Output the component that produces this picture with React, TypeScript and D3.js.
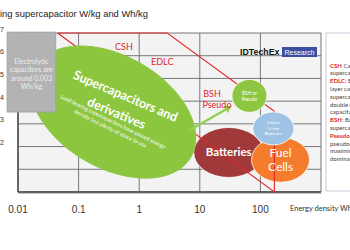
import React from "react";
import * as d3 from "d3";

// ---- data ----
const TITLE = "Comparing supercapacitor W/kg and Wh/kg";
const X_LABEL = "Energy density Wh/kg";
const ENERGY_DOMAIN = [0.01, 1000];
const POWER_DOMAIN = [0, 7];
const ENERGY_TICKS = [0.01, 0.1, 1, 10, 100];
const ENERGY_GRID = [0.01, 0.1, 1, 10, 100, 1000];
const POWER_GRID = [0, 1, 2, 3, 4, 5, 6, 7];
const POWER_LABELS = [2, 3, 4, 5, 6, 7];

// supercapacitor zone outline (energy Wh/kg, log10 power W/kg)
const ZONE_ENERGY = [0.045, 2.9, 170, 170, 0.045];
const ZONE_POWER = [7, 7, 3.55, 0, 7];

// technology blobs: centre (energy, log power)
const BLOB_NAMES = ["Batteries", "Fuel Cells", "Li", "Super", "BSH"];
const BLOB_ENERGY = [30, 215, 164, 0.37, 66];
const BLOB_POWER = [1.74, 1.42, 2.8, 3.52, 4.23];

// zone labels
const ZONE_LABELS = ["CSH", "EDLC", "BSH", "Pseudo"];
const ZONE_LABEL_ENERGY = [0.56, 2.4, 15.9, 19.2];
const ZONE_LABEL_POWER = [6.25, 5.6, 4.2, 3.68];

// arrow from supercapacitors to BSH/pseudo
const ARROW_ENERGY = [6.9, 31.5];
const ARROW_POWER = [2.73, 3.74];

// electrolytic capacitor note (energy, power extents)
const NOTE_ENERGY = [0.0066, 0.042];
const NOTE_POWER = [3.52, 7.04];
const NOTE_LINES = ["Electrolytic", "capacitors are", "around 0.003", "Wh/kg"];

const LEGEND_KEYS = ["CSH", "", "EDLC:", "", "", "", "", "BSH", "", "Pseudo", "", "", ""];
const LEGEND_TEXT = [
  " Capacitor-",
  "supercapacitor hybrid",
  " Electric double",
  "layer capacitor",
  "supercapacitor,",
  "double layer",
  "capacitance",
  ": Battery-",
  "supercapacitor hybrid",
  "capacitor:",
  "pseudocapacitance",
  "maximised",
  "dominant",
];

// ---- styles ----
const RED = "#e2262b";
const GREEN = "#8cc63f";
const BLOB_STYLE: Record<string, { rx: number; ry: number; fill: string; rot?: number }> = {
  Batteries: { rx: 35, ry: 25, fill: "#a1393a" },
  "Fuel Cells": { rx: 29, ry: 22.5, fill: "#f47c2c" },
  Li: { rx: 20.5, ry: 16.5, fill: "#9ec3e4" },
  Super: { rx: 90, ry: 56, fill: GREEN, rot: 30 },
  BSH: { rx: 17.5, ry: 16.5, fill: "#8dc641" },
};

export default function App() {
  const x = d3.scaleLog().domain(ENERGY_DOMAIN).range([18, 321]);
  const y = d3.scaleLinear().domain(POWER_DOMAIN).range([192, 33]);
  const [x0, x1] = x.range();
  const [yb, yt] = y.range();

  const zonePath = d3.line()(ZONE_ENERGY.map((e, i) => [x(e), y(ZONE_POWER[i])]) as [number, number][]) || "";

  const blob = (name: string) => {
    const i = BLOB_NAMES.indexOf(name);
    return { cx: x(BLOB_ENERGY[i]), cy: y(BLOB_POWER[i]), ...BLOB_STYLE[name] };
  };
  const ellipse = (name: string, stroke = "#ffffff") => {
    const b = blob(name);
    return (
      <ellipse
        cx={b.cx}
        cy={b.cy}
        rx={b.rx}
        ry={b.ry}
        fill={b.fill}
        stroke={stroke}
        strokeWidth={0.8}
        transform={b.rot ? `rotate(${b.rot},${b.cx},${b.cy})` : undefined}
      />
    );
  };

  const sup = blob("Super");
  const bat = blob("Batteries");
  const fc = blob("Fuel Cells");
  const li = blob("Li");
  const bsh = blob("BSH");

  const nx0 = x(NOTE_ENERGY[0]);
  const nx1 = x(NOTE_ENERGY[1]);
  const ny0 = y(NOTE_POWER[1]);
  const ny1 = y(NOTE_POWER[0]);

  return (
    <svg
      width={350}
      height={250}
      style={{ position: "absolute", left: 0, top: 0, background: "#fff" }}
      fontFamily="Lato, 'Open Sans', sans-serif"
    >
      <defs>
        <marker id="ah" markerWidth={8} markerHeight={8} refX={5} refY={4} orient="auto" markerUnits="userSpaceOnUse">
          <path d="M0,0 L7,4 L0,8 Z" fill="#92d050" />
        </marker>
      </defs>

      {/* title */}
      <text x={148} y={17} textAnchor="end" fontSize={9.4} fontFamily="'Liberation Sans', Arial, sans-serif" fill="#222">
        {TITLE}
      </text>

      {/* plot background */}
      <rect x={x0} y={yt} width={x1 - x0} height={yb - yt} fill="#f3f3f3" />

      {/* grid */}
      {POWER_GRID.map((p) => (
        <line key={"h" + p} x1={x0} x2={x1} y1={y(p)} y2={y(p)} stroke="#6a6a6a" strokeWidth={0.9} />
      ))}
      {ENERGY_GRID.map((e) => (
        <line key={"v" + e} x1={x(e)} x2={x(e)} y1={yt} y2={yb} stroke="#6a6a6a" strokeWidth={0.9} />
      ))}
      {/* axes */}
      <line x1={x0} x2={x1 + 1} y1={yb + 1.5} y2={yb + 1.5} stroke="#c9c9c9" strokeWidth={1.2} />
      <line x1={x0} x2={x1} y1={yb} y2={yb} stroke="#444" strokeWidth={1.4} />
      <line x1={x0} x2={x0} y1={yt} y2={yb} stroke="#444" strokeWidth={1.4} />

      {/* y labels */}
      {POWER_LABELS.map((p) => (
        <text key={"yl" + p} x={4} y={y(p) - 1.5} textAnchor="end" fontSize={7} fontFamily="'Liberation Sans', Arial, sans-serif" fill="#333">
          {p}
        </text>
      ))}

      {/* x labels */}
      {ENERGY_TICKS.map((e) => (
        <text key={"xl" + e} x={x(e)} y={213} textAnchor="middle" fontSize={10} fontFamily="'Liberation Sans', Arial, sans-serif" fill="#333">
          {String(e)}
        </text>
      ))}
      <text x={290} y={211} fontSize={7.5} fill="#333">
        {X_LABEL}
      </text>

      {/* batteries & fuel cells */}
      {ellipse("Batteries")}
      {ellipse("Fuel Cells")}

      {/* zone outline */}
      <path d={zonePath} fill="none" stroke={RED} strokeWidth={1.1} />

      {ellipse("Li")}

      {/* big supercapacitor ellipse */}
      {ellipse("Super", GREEN)}

      {/* BSH/pseudo circle */}
      {ellipse("BSH")}

      {/* arrow */}
      <line
        x1={x(ARROW_ENERGY[0])}
        y1={y(ARROW_POWER[0])}
        x2={x(ARROW_ENERGY[1])}
        y2={y(ARROW_POWER[1])}
        stroke="#92d050"
        strokeWidth={2.4}
        markerEnd="url(#ah)"
      />

      {/* blob texts */}
      <text x={bat.cx} y={bat.cy + 3.5} textAnchor="middle" fontSize={11.5} fontWeight="bold" fill="#fff">
        Batteries
      </text>
      <text x={fc.cx} y={fc.cy - 3} textAnchor="middle" fontSize={12} fill="#fff">
        Fuel
      </text>
      <text x={fc.cx} y={fc.cy + 11} textAnchor="middle" fontSize={12} fill="#fff">
        Cells
      </text>
      {["Latest", "Li-ion", "Batteries"].map((t, i) => (
        <text key={t} x={li.cx} y={li.cy - 4 + i * 5.5} textAnchor="middle" fontSize={4.5} fill="#fff">
          {t}
        </text>
      ))}
      {["BSH or", "Pseudo"].map((t, i) => (
        <text key={t} x={bsh.cx} y={bsh.cy - 1 + i * 6} textAnchor="middle" fontSize={4.8} fill="#fff">
          {t}
        </text>
      ))}

      <g transform={`translate(${sup.cx},${sup.cy})`} fill="#fff">
        <g transform="translate(12.5,-16) rotate(23)">
          <text y={4.5} textAnchor="middle" fontSize={13} fontWeight="bold" textLength={112} lengthAdjust="spacingAndGlyphs">
            Supercapacitors and
          </text>
        </g>
        <g transform="translate(3.5,1) rotate(23)">
          <text y={4.5} textAnchor="middle" fontSize={13} fontWeight="bold" textLength={62} lengthAdjust="spacingAndGlyphs">
            derivatives
          </text>
        </g>
        <g transform="translate(0,9.5) rotate(26)">
          <text y={2} textAnchor="middle" fontSize={5.4} textLength={116} lengthAdjust="spacingAndGlyphs">
            Load bearing supercapacitors have passed energy
          </text>
        </g>
        <g transform="translate(-2.5,16.5) rotate(26)">
          <text y={2} textAnchor="middle" fontSize={5.4} textLength={80} lengthAdjust="spacingAndGlyphs">
            density test plenty of space to use
          </text>
        </g>
      </g>

      {/* zone labels */}
      {ZONE_LABELS.map((l, i) => (
        <text
          key={l}
          x={x(ZONE_LABEL_ENERGY[i])}
          y={y(ZONE_LABEL_POWER[i])}
          textAnchor="middle"
          fontSize={9}
          fill={RED}
        >
          {l}
        </text>
      ))}

      {/* electrolytic note */}
      <rect x={nx0} y={ny0} width={nx1 - nx0} height={ny1 - ny0} fill="#b3b3b3" stroke="#a0a0a0" strokeWidth={0.8} />
      {NOTE_LINES.map((t, i) => (
        <text key={t} x={(nx0 + nx1) / 2} y={ny0 + 31.5 + i * 8.6} textAnchor="middle" fontSize={7} fill="#eeeeee">
          {t}
        </text>
      ))}

      {/* IDTechEx logo */}
      <text x={240} y={55} fontSize={8.8} fontWeight="bold" fontFamily="'Liberation Sans', Arial, sans-serif" fill="#111">
        IDTechEx
      </text>
      <rect x={282} y={47} width={35} height={10} fill="#3d4fa3" />
      <text x={299.5} y={54.6} textAnchor="middle" fontSize={7} fontFamily="'Liberation Sans', Arial, sans-serif" fill="#fff">
        Research
      </text>

      {/* legend panel */}
      <rect x={326} y={33} width={40} height={158} fill="#fff" stroke="#bfc6d4" strokeWidth={0.9} />
      {LEGEND_TEXT.map((t, i) => (
        <text key={i} x={330} y={67.5 + i * 7.8} fontSize={6} fill="#444">
          {LEGEND_KEYS[i] ? (
            <tspan fill={RED} fontWeight="bold">
              {LEGEND_KEYS[i]}
            </tspan>
          ) : null}
          {t}
        </text>
      ))}
    </svg>
  );
}
